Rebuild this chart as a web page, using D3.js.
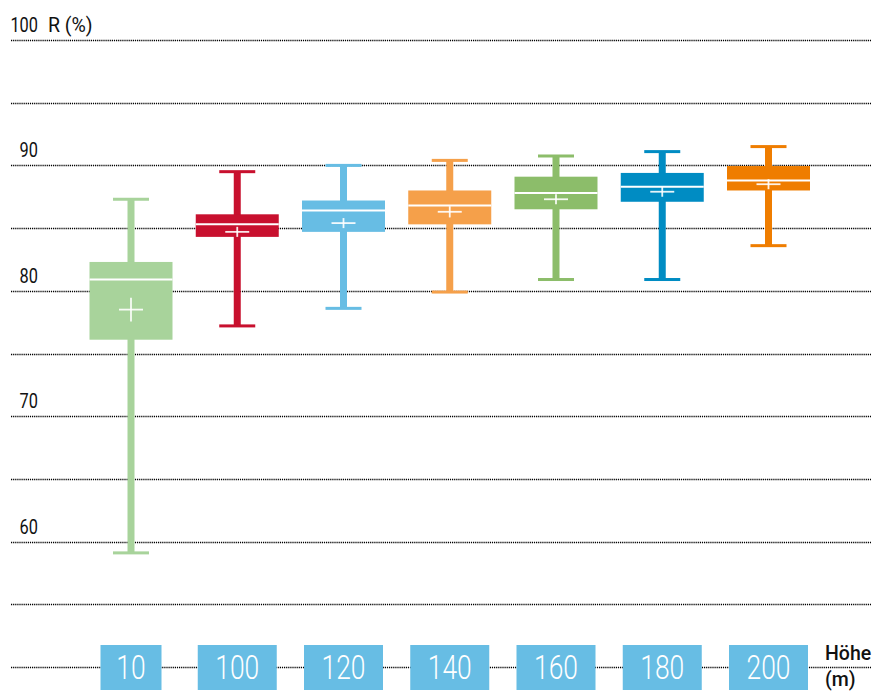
<!DOCTYPE html>
<html><head><meta charset="utf-8">
<script src="https://cdn.jsdelivr.net/npm/d3@7"></script>
<style>html,body{margin:0;padding:0;background:#fff;}svg{display:block;}</style>
</head><body>
<svg id="chart" width="881" height="691"></svg>
<script>
const categories = ["10","100","120","140","160","180","200"];
const whiskerLow  = [59.1, 77.2, 78.6, 79.9, 80.9, 80.9, 83.6];
const q1          = [76.1, 84.3, 84.7, 85.3, 86.5, 87.1, 88.0];
const median      = [80.9, 85.3, 86.4, 86.8, 87.8, 88.3, 88.8];
const q3          = [82.3, 86.1, 87.2, 88.0, 89.1, 89.4, 89.95];
const whiskerHigh = [87.3, 89.5, 90.0, 90.4, 90.75, 91.1, 91.5];
const mean        = [78.5, 84.7, 85.4, 86.3, 87.3, 87.9, 88.5];
const meanErr     = [0.95, 0.4, 0.4, 0.45, 0.4, 0.4, 0.4];
const colors = ["#a8d39b","#c8102e","#67bde4","#f5a04a","#8cbd6a","#008cc3","#ef7d00"];
const yTickLabels = [60,70,80,90,100];
const gridValues = d3.range(50, 101, 5);

const svg = d3.select("#chart");
const x = d3.scalePoint().domain(categories).range([131, 768.5]);
const y = d3.scaleLinear().domain([50, 100]).range([667, 40]);

// gridlines
svg.append("g").selectAll("line").data(gridValues).join("line")
  .attr("x1", 11).attr("x2", 871)
  .attr("y1", d => Math.round(y(d)) + 0.5).attr("y2", d => Math.round(y(d)) + 0.5)
  .attr("stroke", "#000").attr("stroke-width", 1.3).attr("stroke-dasharray", "1.2,0.9");

// y tick labels
const tl = svg.append("g").selectAll("g").data(yTickLabels).join("g")
  .attr("transform", d => `translate(38,${y(d) - 8}) scale(0.84,1)`);
tl.append("text").text(d => d)
  .attr("text-anchor", "end")
  .attr("font-family", "Roboto, 'DejaVu Sans', sans-serif")
  .attr("font-size", 19.5).attr("font-weight", 400).attr("fill", "#111");

svg.append("text").text("R (%)").attr("x", 48).attr("y", y(100) - 8)
  .attr("font-family", "Roboto, sans-serif").attr("font-size", 19.5)
  .attr("font-weight", 400).attr("fill", "#111");

// boxes
const data = categories.map((c, i) => ({c, i}));
const boxW = 83, capW = 36, whW = 7;
const g = svg.append("g").selectAll("g").data(data).join("g");
// whisker stem
g.append("rect")
  .attr("x", d => x(d.c) - whW / 2).attr("width", whW)
  .attr("y", d => y(whiskerHigh[d.i])).attr("height", d => y(whiskerLow[d.i]) - y(whiskerHigh[d.i]))
  .attr("fill", d => colors[d.i]);
// caps
g.append("rect")
  .attr("x", d => x(d.c) - capW / 2).attr("width", capW)
  .attr("y", d => y(whiskerHigh[d.i]) - 1.5).attr("height", 3)
  .attr("fill", d => colors[d.i]);
g.append("rect")
  .attr("x", d => x(d.c) - capW / 2).attr("width", capW)
  .attr("y", d => y(whiskerLow[d.i]) - 1.5).attr("height", 3)
  .attr("fill", d => colors[d.i]);
// box
g.append("rect")
  .attr("x", d => x(d.c) - boxW / 2).attr("width", boxW)
  .attr("y", d => y(q3[d.i])).attr("height", d => y(q1[d.i]) - y(q3[d.i]))
  .attr("fill", d => colors[d.i]);
// median
g.append("line")
  .attr("x1", d => x(d.c) - boxW / 2).attr("x2", d => x(d.c) + boxW / 2)
  .attr("y1", d => y(median[d.i])).attr("y2", d => y(median[d.i]))
  .attr("stroke", "#fff").attr("stroke-width", 2);
// mean cross
g.append("line")
  .attr("x1", d => x(d.c) - 12).attr("x2", d => x(d.c) + 12)
  .attr("y1", d => y(mean[d.i])).attr("y2", d => y(mean[d.i]))
  .attr("stroke", "#fff").attr("stroke-opacity", 0.9).attr("stroke-width", 1.8);
g.append("line")
  .attr("x1", d => x(d.c)).attr("x2", d => x(d.c))
  .attr("y1", d => y(mean[d.i] + meanErr[d.i])).attr("y2", d => y(mean[d.i] - meanErr[d.i]))
  .attr("stroke", "#fff").attr("stroke-opacity", 0.9).attr("stroke-width", 1.8);

// x labels
const xl = svg.append("g").selectAll("g").data(categories).join("g")
  .attr("transform", d => `translate(${x(d)},0)`);
xl.append("rect")
  .attr("x", d => d.length < 3 ? -30.5 : -39.5)
  .attr("width", d => d.length < 3 ? 61 : 79)
  .attr("y", 645).attr("height", 45)
  .attr("fill", "#67bde4");
xl.append("g").attr("transform", `translate(0,679) scale(0.8,1)`)
  .append("text").text(d => d)
  .attr("text-anchor", "middle")
  .attr("font-family", "Roboto, sans-serif").attr("font-size", 33)
  .attr("font-weight", 300).attr("fill", "#fff");

// x axis title
svg.append("text").attr("x", 825).attr("y", 660)
  .attr("font-family", "Roboto, sans-serif").attr("font-size", 19.5)
  .attr("font-weight", 500).attr("fill", "#111").text("Höhe");
svg.append("text").attr("x", 825).attr("y", 686)
  .attr("font-family", "Roboto, sans-serif").attr("font-size", 19.5)
  .attr("font-weight", 500).attr("fill", "#111").text("(m)");
</script>
</body></html>
